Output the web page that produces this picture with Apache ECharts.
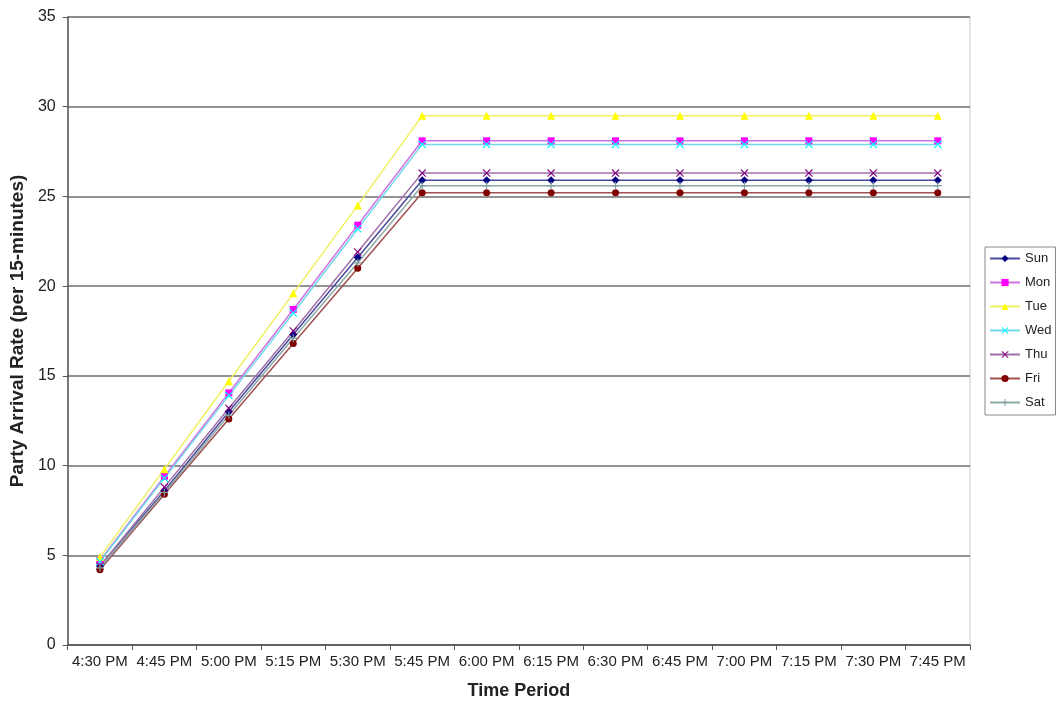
<!DOCTYPE html>
<html>
<head>
<meta charset="utf-8">
<script src="https://cdn.jsdelivr.net/npm/echarts@6/dist/echarts.min.js"></script>
<style>
  html, body { margin: 0; padding: 0; background: #fff; }
  #chart { width: 1061px; height: 705px; }
</style>
</head>
<body>
<div id="chart"></div>
<script>
// Time slots (15-minute periods)
const periods = ['4:30 PM', '4:45 PM', '5:00 PM', '5:15 PM', '5:30 PM', '5:45 PM', '6:00 PM',
                 '6:15 PM', '6:30 PM', '6:45 PM', '7:00 PM', '7:15 PM', '7:30 PM', '7:45 PM'];

// Party arrival rate per 15 minutes, by day of week
const sun = [4.4, 8.6, 13.0, 17.3, 21.6, 25.9, 25.9, 25.9, 25.9, 25.9, 25.9, 25.9, 25.9, 25.9];
const mon = [4.7, 9.4, 14.05, 18.7, 23.4, 28.1, 28.1, 28.1, 28.1, 28.1, 28.1, 28.1, 28.1, 28.1];
const tue = [4.9, 9.8, 14.7, 19.6, 24.5, 29.5, 29.5, 29.5, 29.5, 29.5, 29.5, 29.5, 29.5, 29.5];
const wed = [4.65, 9.3, 13.9, 18.5, 23.2, 27.9, 27.9, 27.9, 27.9, 27.9, 27.9, 27.9, 27.9, 27.9];
const thu = [4.4, 8.8, 13.2, 17.5, 21.9, 26.3, 26.3, 26.3, 26.3, 26.3, 26.3, 26.3, 26.3, 26.3];
const fri = [4.2, 8.4, 12.6, 16.8, 21.0, 25.2, 25.2, 25.2, 25.2, 25.2, 25.2, 25.2, 25.2, 25.2];
const sat = [4.3, 8.5, 12.8, 17.1, 21.3, 25.6, 25.6, 25.6, 25.6, 25.6, 25.6, 25.6, 25.6, 25.6];

const yTicks = [0, 5, 10, 15, 20, 25, 30, 35];

const xMark = 'path://M0,1L1,0L5,4L9,0L10,1L6,5L10,9L9,10L5,6L1,10L0,9L4,5Z';
const plusMark = 'path://M4.3,0H5.7V4.3H10V5.7H5.7V10H4.3V5.7H0V4.3H4.3Z';

const days = [
  { name: 'Sun', data: sun, color: '#000080', line: '#4a4a9a', symbol: 'diamond', size: 8 },
  { name: 'Mon', data: mon, color: '#ff00ff', line: '#d070e0', symbol: 'rect', size: 7 },
  { name: 'Tue', data: tue, color: '#ffff00', line: '#f0f060', symbol: 'triangle', size: 8 },
  { name: 'Wed', data: wed, color: '#00ffff', line: '#70d8e8', symbol: xMark, size: 8 },
  { name: 'Thu', data: thu, color: '#800080', line: '#a070a8', symbol: xMark, size: 8 },
  { name: 'Fri', data: fri, color: '#800000', line: '#a05050', symbol: 'circle', size: 7 },
  { name: 'Sat', data: sat, color: '#7f9f9f', line: '#8fa8a8', symbol: plusMark, size: 8 }
];

const chart = echarts.init(document.getElementById('chart'));
chart.setOption({
  backgroundColor: '#ffffff',
  animation: false,
  textStyle: { fontFamily: 'Liberation Sans, Arial, sans-serif' },
  grid: { left: 66, right: 91, top: 17, bottom: 58, show: true, borderColor: '#c8c8c8', borderWidth: 1 },
  legend: {
    orient: 'vertical',
    left: 985,
    top: 247,
    itemWidth: 30,
    itemHeight: 9,
    itemGap: 11,
    padding: [5, 4, 6, 4],
    borderColor: '#888',
    borderWidth: 1,
    backgroundColor: '#fff',
    textStyle: { fontSize: 13, color: '#222', padding: [0, 0, 0, 0] },
    data: days.map(d => d.name)
  },
  xAxis: {
    type: 'category',
    data: periods,
    boundaryGap: true,
    name: 'Time Period',
    nameLocation: 'middle',
    nameGap: 37,
    nameTextStyle: { fontSize: 18, fontWeight: 'bold', color: '#222' },
    axisLine: { lineStyle: { color: '#555', width: 1.5 } },
    axisTick: { show: true, alignWithLabel: false, length: 5, lineStyle: { color: '#555' } },
    axisLabel: { fontSize: 15, color: '#222', margin: 9, interval: 0 },
    splitLine: { show: false }
  },
  yAxis: {
    type: 'value',
    min: 0,
    max: 35,
    interval: 5,
    name: 'Party Arrival Rate (per 15-minutes)',
    nameLocation: 'middle',
    nameGap: 38,
    nameTextStyle: { fontSize: 19, fontWeight: 'bold', color: '#222' },
    axisLine: { show: true, lineStyle: { color: '#555', width: 1.5 } },
    axisTick: { show: true, inside: false, length: 5, lineStyle: { color: '#555' } },
    axisLabel: { fontSize: 16, color: '#222', margin: 12, formatter: v => yTicks.includes(v) ? String(v) : '' },
    splitLine: { show: true, lineStyle: { color: '#6e6e6e', width: 1.6 } }
  },
  series: days.map(d => ({
    name: d.name,
    type: 'line',
    data: d.data,
    symbol: d.symbol,
    symbolSize: d.size,
    showSymbol: true,
    lineStyle: { color: d.line, width: 1.5 },
    itemStyle: { color: d.color },
    emphasis: { disabled: true }
  }))
});
</script>
</body>
</html>
